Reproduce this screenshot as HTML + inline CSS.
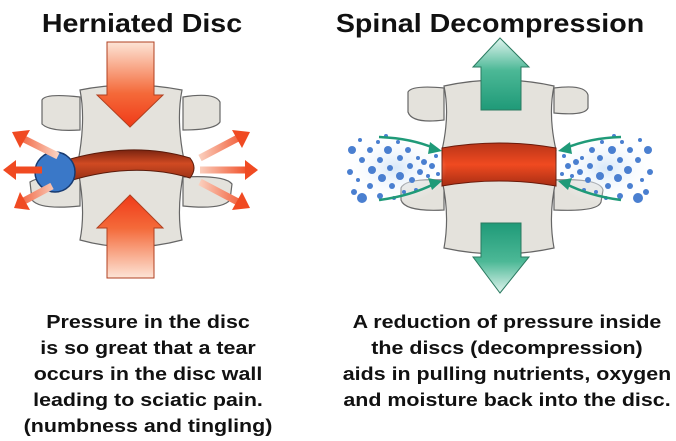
<!DOCTYPE html>
<html><head><style>
body{margin:0;width:676px;height:441px;background:#fff;overflow:hidden;font-family:"Liberation Sans",sans-serif;}
.t{position:absolute;font-weight:bold;font-size:26px;line-height:30px;color:#111;text-align:center;white-space:nowrap;transform:scaleX(1.1)}
.p{position:absolute;font-weight:bold;font-size:18px;line-height:26px;color:#111;text-align:center;white-space:nowrap;transform:scaleX(1.19)}
</style></head><body>
<svg width="676" height="441" style="position:absolute;left:0;top:0">
<defs>
<linearGradient id="rd" x1="0" y1="0" x2="0" y2="1"><stop offset="0" stop-color="#fde4d6"/><stop offset="0.6" stop-color="#f46a3a"/><stop offset="1" stop-color="#f03a18"/></linearGradient>
<linearGradient id="ru" x1="0" y1="1" x2="0" y2="0"><stop offset="0" stop-color="#fde4d6"/><stop offset="0.6" stop-color="#f46a3a"/><stop offset="1" stop-color="#f03a18"/></linearGradient>
<linearGradient id="gd" x1="0" y1="0" x2="0" y2="1"><stop offset="0" stop-color="#1f9a78"/><stop offset="0.55" stop-color="#4cb896"/><stop offset="1" stop-color="#e0f4ee"/></linearGradient>
<linearGradient id="gt" x1="0" y1="1" x2="0" y2="0"><stop offset="0" stop-color="#1f9a78"/><stop offset="0.55" stop-color="#4cb896"/><stop offset="1" stop-color="#e0f4ee"/></linearGradient>
<linearGradient id="dsc" x1="0" y1="0" x2="0" y2="1"><stop offset="0" stop-color="#7a2410"/><stop offset="0.4" stop-color="#d04a22"/><stop offset="1" stop-color="#8a2a12"/></linearGradient>
<linearGradient id="dsc2" x1="0" y1="0" x2="0" y2="1"><stop offset="0" stop-color="#b83418"/><stop offset="0.5" stop-color="#f04a20"/><stop offset="1" stop-color="#a82e14"/></linearGradient>
<linearGradient id="sl" gradientUnits="userSpaceOnUse" x1="60" y1="0" x2="10" y2="0"><stop offset="0" stop-color="#fbd8c8"/><stop offset="1" stop-color="#f04a22"/></linearGradient>
<linearGradient id="sr" gradientUnits="userSpaceOnUse" x1="196" y1="0" x2="250" y2="0"><stop offset="0" stop-color="#fbd8c8"/><stop offset="1" stop-color="#f04a22"/></linearGradient>
<radialGradient id="haze" cx="0.5" cy="0.5" r="0.5"><stop offset="0" stop-color="#d8e8f8"/><stop offset="1" stop-color="#ffffff" stop-opacity="0"/></radialGradient>
</defs>
<g stroke="#666" stroke-width="1.2" fill="#e4e2dc">
<path d="M42,100 Q45,93 80,97 L80,130 Q50,132 42,124Z"/>
<path d="M183,97 Q215,92 220,102 L220,122 Q215,130 183,130Z"/>
<path d="M30,182 Q40,175 80,177 L80,206 Q40,210 32,200Z"/>
<path d="M183,177 Q225,175 232,184 L230,200 Q222,210 183,206Z"/>
<path d="M80,90 Q130,80 182,90 Q176,120 184,160 L78,162 Q86,120 80,90Z"/>
<path d="M78,170 L184,170 Q176,210 182,240 Q130,254 80,240 Q86,210 78,170Z"/>
<path d="M408,92 Q412,85 444,88 L444,120 Q412,124 408,112Z"/>
<path d="M554,88 Q585,84 588,95 L588,108 Q585,116 554,113Z"/>
<path d="M401,188 Q405,178 444,180 L444,210 Q405,212 401,200Z"/>
<path d="M554,180 Q600,178 603,190 L601,202 Q598,212 554,210Z"/>
<path d="M444,86 Q499,74 554,86 Q548,115 556,150 L442,150 Q450,115 444,86Z"/>
<path d="M442,180 L556,180 Q548,215 554,248 Q499,260 444,248 Q450,215 442,180Z"/>
</g>
<path d="M60,162 Q130,140 190,158 Q198,168 190,178 Q130,160 60,184Z" fill="url(#dsc)" stroke="#5a1a0a"/>
<circle cx="55" cy="172" r="20" fill="#3a78c8" stroke="#173a70" stroke-width="1.5"/>
<path d="M107,42 H154 V95 H163 L130,127 L97,95 H107Z" fill="url(#rd)" stroke="#b04020"/>
<path d="M107,278 H154 V228 H163 L130,195 L97,228 H107Z" fill="url(#ru)" stroke="#b04020"/>
<g stroke-width="7" stroke-linecap="butt">
<line x1="58" y1="156" x2="22" y2="138" stroke="url(#sl)"/>
<line x1="42" y1="170" x2="14" y2="170" stroke="#f04a22"/>
<line x1="52" y1="186" x2="22" y2="202" stroke="url(#sl)"/>
<line x1="200" y1="158" x2="238" y2="138" stroke="url(#sr)"/>
<line x1="200" y1="170" x2="246" y2="170" stroke="url(#sr)"/>
<line x1="200" y1="182" x2="238" y2="202" stroke="url(#sr)"/>
</g>
<g fill="#f04a22">
<polygon points="12,132 30,130 20,148"/><polygon points="3,170 16,160 16,180"/><polygon points="14,208 20,192 30,210"/>
<polygon points="250,132 232,130 242,148"/><polygon points="258,170 245,160 245,180"/><polygon points="250,208 242,192 232,210"/>
</g>
<path d="M442,148 Q499,138 556,148 L556,186 Q499,176 442,186Z" fill="url(#dsc2)" stroke="#6a1a0a"/>
<path d="M481,110 H521 V67 H529 L500,38 L473,67 H481Z" fill="url(#gt)" stroke="#2a7a60"/>
<path d="M481,223 H521 V257 H529 L500,293 L473,257 H481Z" fill="url(#gd)" stroke="#2a7a60"/>
<ellipse cx="395" cy="168" rx="52" ry="36" fill="url(#haze)"/>
<ellipse cx="605" cy="168" rx="52" ry="36" fill="url(#haze)"/>
<g fill="#4a7fd0">
<circle cx="352" cy="150" r="4"/><circle cx="350" cy="172" r="3"/><circle cx="354" cy="192" r="3"/><circle cx="360" cy="140" r="2"/><circle cx="362" cy="160" r="3"/><circle cx="362" cy="198" r="5"/><circle cx="370" cy="150" r="3"/><circle cx="372" cy="170" r="4"/><circle cx="370" cy="186" r="3"/><circle cx="378" cy="142" r="2"/><circle cx="380" cy="160" r="3"/><circle cx="382" cy="178" r="4"/><circle cx="380" cy="196" r="3"/><circle cx="388" cy="150" r="4"/><circle cx="390" cy="168" r="3"/><circle cx="392" cy="186" r="3"/><circle cx="398" cy="142" r="2"/><circle cx="400" cy="158" r="3"/><circle cx="400" cy="176" r="4"/><circle cx="404" cy="192" r="2"/><circle cx="408" cy="150" r="3"/><circle cx="410" cy="166" r="3"/><circle cx="412" cy="180" r="3"/><circle cx="418" cy="158" r="2"/><circle cx="420" cy="172" r="3"/><circle cx="424" cy="162" r="3"/><circle cx="428" cy="176" r="2"/><circle cx="432" cy="166" r="3"/><circle cx="436" cy="156" r="2"/><circle cx="438" cy="174" r="2"/><circle cx="358" cy="180" r="2"/><circle cx="386" cy="136" r="2"/><circle cx="394" cy="198" r="2"/><circle cx="416" cy="190" r="2"/>
<circle cx="648" cy="150" r="4"/><circle cx="650" cy="172" r="3"/><circle cx="646" cy="192" r="3"/><circle cx="640" cy="140" r="2"/><circle cx="638" cy="160" r="3"/><circle cx="638" cy="198" r="5"/><circle cx="630" cy="150" r="3"/><circle cx="628" cy="170" r="4"/><circle cx="630" cy="186" r="3"/><circle cx="622" cy="142" r="2"/><circle cx="620" cy="160" r="3"/><circle cx="618" cy="178" r="4"/><circle cx="620" cy="196" r="3"/><circle cx="612" cy="150" r="4"/><circle cx="610" cy="168" r="3"/><circle cx="608" cy="186" r="3"/><circle cx="602" cy="142" r="2"/><circle cx="600" cy="158" r="3"/><circle cx="600" cy="176" r="4"/><circle cx="596" cy="192" r="2"/><circle cx="592" cy="150" r="3"/><circle cx="590" cy="166" r="3"/><circle cx="588" cy="180" r="3"/><circle cx="582" cy="158" r="2"/><circle cx="580" cy="172" r="3"/><circle cx="576" cy="162" r="3"/><circle cx="572" cy="176" r="2"/><circle cx="568" cy="166" r="3"/><circle cx="564" cy="156" r="2"/><circle cx="562" cy="174" r="2"/><circle cx="642" cy="180" r="2"/><circle cx="614" cy="136" r="2"/><circle cx="606" cy="198" r="2"/><circle cx="584" cy="190" r="2"/>
</g>
<g stroke="#1f9a78" stroke-width="2.5" fill="none">
<path d="M379,137 Q410,138 434,148"/><path d="M379,200 Q410,196 434,184"/>
<path d="M621,137 Q590,138 566,148"/><path d="M621,200 Q590,196 566,184"/>
</g>
<g fill="#1f9a78">
<polygon points="442,151 430,142 428,154"/><polygon points="442,181 428,178 432,190"/>
<polygon points="558,151 570,142 572,154"/><polygon points="558,181 572,178 568,190"/>
</g>
</svg>
<div class="t" style="left:0;width:284px;top:8px">Herniated Disc</div>
<div class="t" style="left:330px;width:320px;top:8px">Spinal Decompression</div>
<div class="p" style="left:-2px;width:300px;top:309px">Pressure in the disc<br>is so great that a tear<br>occurs in the disc wall<br>leading to sciatic pain.<br>(numbness and tingling)</div>
<div class="p" style="left:357px;width:300px;top:309px">A reduction of pressure inside<br>the discs (decompression)<br>aids in pulling nutrients, oxygen<br>and moisture back into the disc.</div>
</body></html>
